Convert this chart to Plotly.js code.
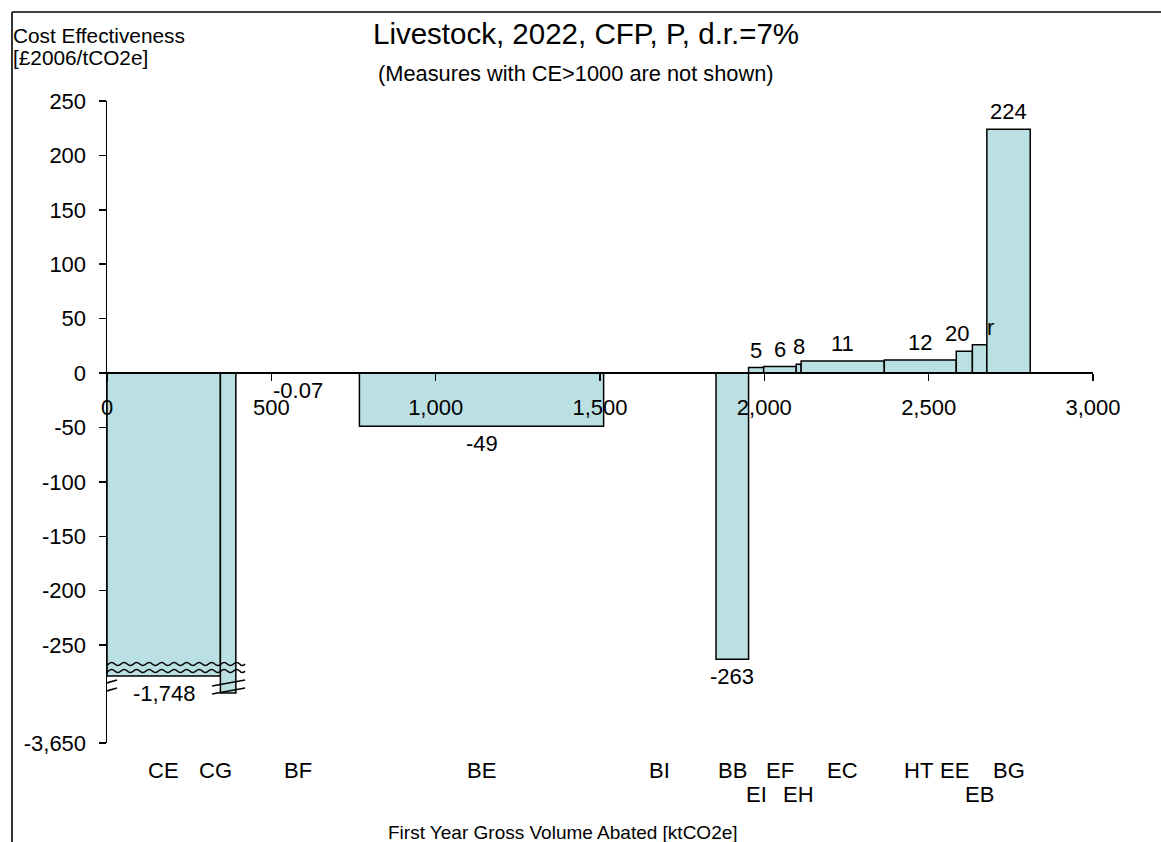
<!DOCTYPE html>
<html><head><meta charset="utf-8">
<script src="https://cdn.plot.ly/plotly-3.0.1.min.js"></script>
<style>html,body{margin:0;padding:0;background:#fff}#chart{width:1161px;height:842px}</style>
</head><body><div id="chart"></div>
<script>
// ---------------- data ----------------
const categories = ['CE','CG','BF','BE','BI','BB','EI','EF','EH','EC','HT','EE','EB','BG'];
const volumes = [345, 47, 376, 743, 342, 99, 46, 99, 15, 253, 219, 49, 44, 132];          // ktCO2e (bar widths)
const costEffectiveness = [-1748, -2230, -0.07, -49, 0, -263, 5, 6, 8, 11, 12, 20, 26, 224]; // £2006/tCO2e
const valueLabels = ['-1,748','','-0.07','-49','','-263','5','6','8','11','12','20','r','224'];
const xTickValues = [0, 500, 1000, 1500, 2000, 2500, 3000];
const yTickValues = [250, 200, 150, 100, 50, 0, -50, -100, -150, -200, -250, -3650];
const yTickLabels = ['250','200','150','100','50','0','-50','-100','-150','-200','-250','-3,650'];

// ---------------- broken y scale ----------------
// linear above the break, compressed below it
const breakAnchors = [[-265, -265], [-1748, -278.5], [-3650, -340]];
function yMap(v) {
  if (v >= breakAnchors[0][0]) return v;
  for (let i = 0; i < breakAnchors.length - 1; i++) {
    const [a0, d0] = breakAnchors[i], [a1, d1] = breakAnchors[i + 1];
    if (v >= a1) return d0 + (v - a0) * (d1 - d0) / (a1 - a0);
  }
  const [a0, d0] = breakAnchors[breakAnchors.length - 2], [a1, d1] = breakAnchors[breakAnchors.length - 1];
  return d0 + (v - a0) * (d1 - d0) / (a1 - a0);
}

// ---------------- styling / layout helpers ----------------
const FONT = 'Liberation Sans, Arial, sans-serif';
const W = 1161, H = 842;
const M = {l: 107, r: 68, t: 101, b: 99};
const PW = W - M.l - M.r, PH = H - M.t - M.b;
const px2x = p => (p - M.l) / PW;
const px2y = p => (H - M.b - p) / PH;
const yMin = yMap(-3650), yMax = 250;
const xMax = 3000;
const pxPerY = PH / (yMax - yMin);
const zeroPx = M.t + yMax * pxPerY;
const py2d = p => (zeroPx - p) / pxPerY;

const catShift = {CG: -13, EE: -10, HT: -2};
const valShift = {EE: -7, EB: 11};

const centers = [];
let acc = 0;
volumes.forEach(w => { centers.push(acc + w / 2); acc += w; });
const dispVals = costEffectiveness.map(yMap);

const annotations = [];
// value labels
categories.forEach((c, i) => {
  if (!valueLabels[i]) return;
  const pos = costEffectiveness[i] >= 0;
  annotations.push({
    x: centers[i], y: dispVals[i], xref: 'x', yref: 'y', text: valueLabels[i], showarrow: false,
    xanchor: 'center', yanchor: pos ? 'bottom' : 'top', yshift: pos ? 3 : -3, xshift: valShift[c] || 0,
    font: {family: FONT, size: 22, color: '#000'}
  });
});
// category labels in two staggered rows
let lastRow1 = -1e9;
categories.forEach((c, i) => {
  const p = M.l + centers[i] / xMax * PW;
  let row = 1;
  if (p - lastRow1 < 40) row = 2; else lastRow1 = p;
  annotations.push({
    x: centers[i], xref: 'x', y: px2y(row === 1 ? 770 : 794), yref: 'paper', text: c, showarrow: false,
    xanchor: 'center', yanchor: 'middle', xshift: catShift[c] || 0,
    font: {family: FONT, size: 22, color: '#000'}
  });
});
// titles
annotations.push({x: px2x(586), y: px2y(34), xref: 'paper', yref: 'paper', text: 'Livestock, 2022, CFP, P, d.r.=7%',
  showarrow: false, xanchor: 'center', yanchor: 'middle', font: {family: FONT, size: 29.5, color: '#000'}});
annotations.push({x: px2x(576), y: px2y(74), xref: 'paper', yref: 'paper', text: '(Measures with CE>1000 are not shown)',
  showarrow: false, xanchor: 'center', yanchor: 'middle', font: {family: FONT, size: 21.8, color: '#000'}});
annotations.push({x: px2x(11), y: px2y(35), xref: 'paper', yref: 'paper', text: 'Cost Effectiveness',
  showarrow: false, xanchor: 'left', yanchor: 'middle', font: {family: FONT, size: 20.8, color: '#000'}});
annotations.push({x: px2x(11), y: px2y(58), xref: 'paper', yref: 'paper', text: '[£2006/tCO2e]',
  showarrow: false, xanchor: 'left', yanchor: 'middle', font: {family: FONT, size: 20.8, color: '#000'}});
annotations.push({x: px2x(563), y: px2y(832), xref: 'paper', yref: 'paper', text: 'First Year Gross Volume Abated [ktCO2e]',
  showarrow: false, xanchor: 'center', yanchor: 'middle', font: {family: FONT, size: 19, color: '#000'}});

// ---------------- break markers (decoration) ----------------
function wavePath(x0, x1, period, amp) {
  let d = `M${x0},0`;
  for (let x = x0; x < x1; x += period / 2) {
    const xe = Math.min(x + period / 2, x1);
    const s = (Math.round((x - x0) / (period / 2)) % 2 === 0) ? 1 : -1;
    d += ` Q${(x + xe) / 2},${s * amp * 2} ${xe},0`;
  }
  return d;
}
const shapes = [];
[664, 671].forEach(p => {
  shapes.push({type: 'path', xref: 'x', yref: 'y', xsizemode: 'pixel', ysizemode: 'pixel', xanchor: 0, yanchor: py2d(p),
    path: wavePath(-11, 138, 12.5, 1.6), line: {color: '#000', width: 1.5}, layer: 'above'});
});
[683, 691].forEach(p => {
  shapes.push({type: 'path', xref: 'x', yref: 'y', xsizemode: 'pixel', ysizemode: 'pixel', xanchor: 0, yanchor: py2d(p),
    path: 'M-11,-3 L10,3', line: {color: '#000', width: 1.5}, layer: 'above'});
  shapes.push({type: 'path', xref: 'x', yref: 'y', xsizemode: 'pixel', ysizemode: 'pixel', xanchor: centers[1], yanchor: py2d(p),
    path: 'M-16,-3 L17,3', line: {color: '#000', width: 1.5}, layer: 'above'});
});
// outer frame (top and left edges)
shapes.push({type: 'line', xref: 'paper', yref: 'paper', x0: px2x(12), x1: px2x(W + 5), y0: px2y(12), y1: px2y(12), line: {color: '#000', width: 1.6}});
shapes.push({type: 'line', xref: 'paper', yref: 'paper', x0: px2x(12), x1: px2x(12), y0: px2y(12), y1: px2y(H + 5), line: {color: '#000', width: 1.6}});

// ---------------- traces ----------------
const trace = {
  type: 'bar', x: centers, y: dispVals, width: volumes, base: 0,
  marker: {color: '#BBE0E3', line: {color: '#000', width: 1.5}},
  hoverinfo: 'skip', showlegend: false, cliponaxis: false
};

const layout = {
  width: W, height: H, margin: M, paper_bgcolor: '#fff', plot_bgcolor: 'rgba(0,0,0,0)',
  showlegend: false, bargap: 0,
  xaxis: {
    range: [0, xMax], autorange: false, anchor: 'free', position: (0 - yMin) / (yMax - yMin),
    showline: true, linecolor: '#000', linewidth: 2, ticks: 'outside', ticklen: 7, tickwidth: 1.5, tickcolor: '#000',
    tickmode: 'array', tickvals: xTickValues, ticktext: xTickValues.map(v => v.toLocaleString('en-US')),
    tickfont: {family: FONT, size: 22, color: '#000'}, showgrid: false, zeroline: false, ticklabelstandoff: 8, fixedrange: true
  },
  yaxis: {
    range: [yMin, yMax], autorange: false, showline: true, linecolor: '#000', linewidth: 1.5,
    ticks: 'outside', ticklen: 7, tickwidth: 1.5, tickcolor: '#000',
    tickmode: 'array', tickvals: yTickValues.map(yMap), ticktext: yTickLabels,
    tickfont: {family: FONT, size: 22, color: '#000'}, showgrid: false, zeroline: false, ticklabelstandoff: 8, fixedrange: true
  },
  annotations: annotations, shapes: shapes
};

Plotly.newPlot('chart', [trace], layout, {displayModeBar: false, staticPlot: true});
</script></body></html>
